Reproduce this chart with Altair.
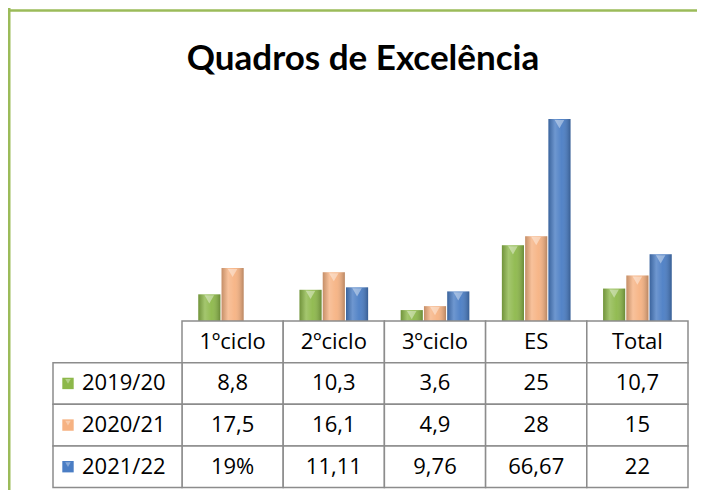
import altair as alt
import pandas as pd

# ---- data ----
categories = ["1ºciclo", "2ºciclo", "3ºciclo", "ES", "Total"]
series = ["2019/20", "2020/21", "2021/22"]
values_2019 = [8.8, 10.3, 3.6, 25, 10.7]
values_2020 = [17.5, 16.1, 4.9, 28, 15]
values_2021 = [None, 11.11, 9.76, 66.67, 22]   # "19%" is text in the source: no bar
labels_2019 = ["8,8", "10,3", "3,6", "25", "10,7"]
labels_2020 = ["17,5", "16,1", "4,9", "28", "15"]
labels_2021 = ["19%", "11,11", "9,76", "66,67", "22"]
colors = ["#8DB84A", "#F6B282", "#4A7DC4"]
title_text = "Quadros de Excelência"

# ---- tables built from the arrays ----
bar_rows = []
for s, vals in zip(series, [values_2019, values_2020, values_2021]):
    for c, v in zip(categories, vals):
        if v is not None:
            bar_rows.append({"category": c, "series": s, "value": v})
bars_df = pd.DataFrame(bar_rows)

rows = ["header"] + series
cell_rows = [{"category": c, "row": "header", "text": c} for c in categories]
for s, labs in zip(series, [labels_2019, labels_2020, labels_2021]):
    for c, t in zip(categories, labs):
        cell_rows.append({"category": c, "row": s, "text": t})
cells_df = pd.DataFrame(cell_rows)
legend_df = pd.DataFrame({"row": series, "series": series})
one = pd.DataFrame({"a": [0]})

# ---- layout (plot coordinates) ----
W, H = 689, 482
TITLE_FONT = "Lato"
FONT = "Open Sans"
GRID = "#8C8C8C"

x_scale = alt.Scale(domain=categories, range=[174, 680], paddingInner=0, paddingOuter=0)
off_scale = alt.Scale(domain=series, paddingInner=0.05, paddingOuter=0.7)
y_val = alt.Scale(domain=[0, 70], range=[313, 101], nice=False, zero=True)
y_row = alt.Scale(domain=rows, range=[313, 479.5], paddingInner=0, paddingOuter=0)
color_scale = alt.Scale(domain=series, range=colors)

X = alt.X("category:N", scale=x_scale, axis=None, sort=categories)
XO = alt.XOffset("series:N", scale=off_scale, sort=series)
Y = alt.Y("value:Q", scale=y_val, axis=None)
YR = alt.Y("row:N", scale=y_row, axis=None, sort=rows)
C = alt.Color("series:N", scale=color_scale, legend=None)

border_top = alt.Chart(one).mark_rule(color="#9BBB59", strokeWidth=2.5).encode(
    x=alt.value(0), x2=alt.value(W), y=alt.value(2.5))
border_left = alt.Chart(one).mark_rule(color="#9BBB59", strokeWidth=2.5).encode(
    x=alt.value(1.25), y=alt.value(0), y2=alt.value(H))

title = alt.Chart(one).mark_text(
    text=title_text, font=TITLE_FONT, fontSize=35, fontWeight="bold", color="black",
    align="center", baseline="alphabetic").encode(x=alt.value(355), y=alt.value(62))

bars = alt.Chart(bars_df).mark_bar().encode(x=X, xOffset=XO, y=Y, color=C)
shade = alt.Chart(bars_df).mark_bar(
    fill=alt.Gradient(
        gradient="linear", x1=0, x2=1, y1=0, y2=0,
        stops=[
            alt.GradientStop(offset=0, color="rgba(0,0,0,0.20)"),
            alt.GradientStop(offset=0.3, color="rgba(255,255,255,0.20)"),
            alt.GradientStop(offset=0.6, color="rgba(255,255,255,0.05)"),
            alt.GradientStop(offset=1, color="rgba(0,0,0,0.25)"),
        ])
).encode(x=X, xOffset=XO, y=Y)
bevel = alt.Chart(bars_df).mark_point(
    shape="triangle-down", filled=True, color="white", opacity=0.4, size=90, yOffset=5
).encode(x=X, xOffset=XO, y=Y)

cells = alt.Chart(cells_df).mark_rect(fill="white", stroke=GRID, strokeWidth=1.5).encode(x=X, y=YR)
label_cells = alt.Chart(legend_df).mark_rect(fill="white", stroke=GRID, strokeWidth=1.5).encode(
    x=alt.value(45), x2=alt.value(174), y=YR)
cell_text = alt.Chart(cells_df).mark_text(font=FONT, fontSize=22, color="black").encode(
    x=X, y=YR, text="text:N")
keys = alt.Chart(legend_df).mark_point(shape="square", filled=True, opacity=1, size=130).encode(
    x=alt.value(60), y=YR, color=C)
key_shade = alt.Chart(legend_df).mark_point(
    shape="triangle-down", filled=True, color="white", opacity=0.35, size=30, yOffset=-2
).encode(x=alt.value(60), y=YR)
key_text = alt.Chart(legend_df).mark_text(font=FONT, fontSize=22, color="black", align="left").encode(
    x=alt.value(74), y=YR, text="row:N")

chart = alt.layer(
    border_top, border_left, title, bars, shade, bevel,
    cells, label_cells, cell_text, keys, key_shade, key_text
).resolve_scale(y="independent").properties(
    width=W, height=H, autosize=alt.AutoSizeParams(type="none"), padding=0
).configure_view(strokeWidth=0)

chart.save("out.html", embed_options={"renderer": "svg", "actions": False})
